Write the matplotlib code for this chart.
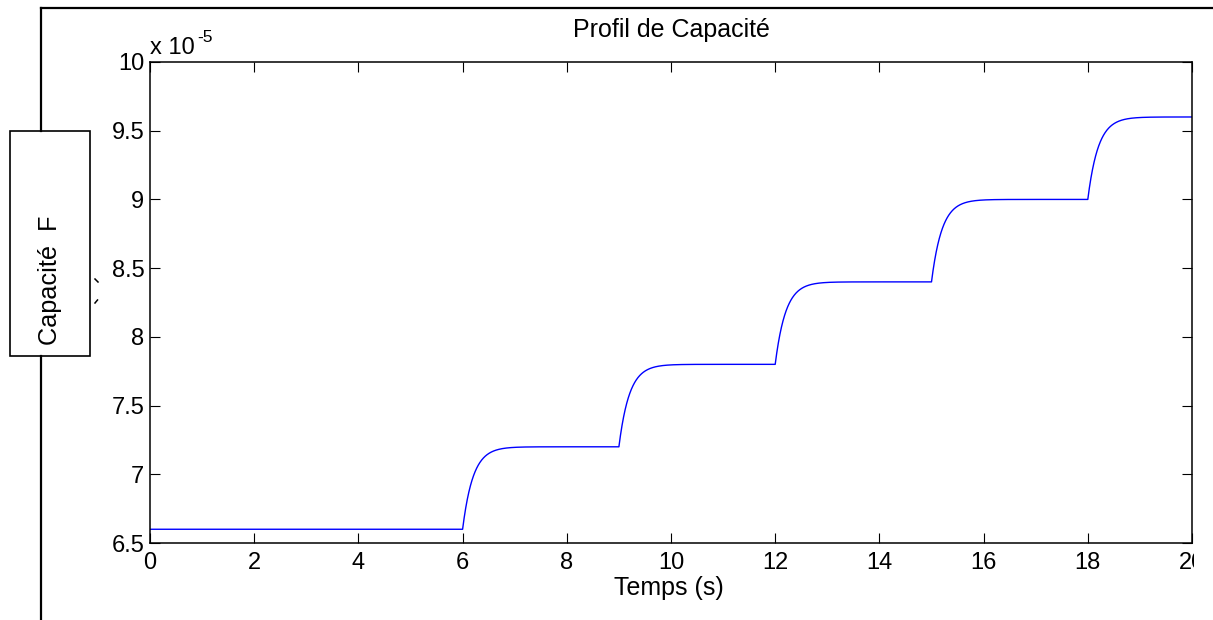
import matplotlib
matplotlib.use('Agg')
import matplotlib.pyplot as plt
import numpy as np
from matplotlib.lines import Line2D
from matplotlib.patches import Rectangle
from matplotlib.transforms import Bbox, TransformedBbox

plt.rcParams['font.family'] = ['Liberation Sans', 'DejaVu Sans']

# capacitance steps (F) and their switching times (s)
step_times = [6, 9, 12, 15, 18]
levels = [6.6e-5, 7.2e-5, 7.8e-5, 8.4e-5, 9.0e-5, 9.6e-5]
tau = 0.2  # first-order time constant of each transition (s)

x_ticks = [0, 2, 4, 6, 8, 10, 12, 14, 16, 18, 20]
y_ticks = [6.5, 7, 7.5, 8, 8.5, 9, 9.5, 10]
scale = 1e-5

t = np.linspace(0, 20, 4001)
c = np.full_like(t, levels[0])
for i, ts in enumerate(step_times):
    delta = levels[i + 1] - levels[i]
    on = t >= ts
    c[on] += delta * (1 - np.exp(-(t[on] - ts) / tau))

W, H = 1213, 620
fig = plt.figure(figsize=(W / 100, H / 100), dpi=100)
ax = fig.add_axes([150 / W, 1 - 543 / H, 1042 / W, 481 / H])

ax.plot(t, c / scale, color='#0000ff', lw=1.0)
ax.set_xlim(0, 20)
ax.set_ylim(6.5, 10)
ax.set_xticks(x_ticks)
ax.set_yticks(y_ticks)
ax.set_xticklabels(['%g' % v for v in x_ticks])
ax.set_yticklabels(['%g' % v for v in y_ticks])
ax.tick_params(direction='in', length=7, width=0.8, labelsize=17,
               top=True, right=True)
ax.tick_params(axis='x', pad=6.5)
ax.tick_params(axis='y', pad=4)
for sp in ax.spines.values():
    sp.set_linewidth(1.1)

# last x tick label is cut at the page edge
clip = TransformedBbox(Bbox([[0, 0], [1194 / W, 1]]), fig.transFigure)
lbl = ax.get_xticklabels()[-1]
lbl.set_clip_box(clip)
lbl.set_clip_on(True)

fig.text(150 / W, 1 - 54 / H, 'x 10', fontsize=17, ha='left', va='baseline')
fig.text(197 / W, 1 - 41.5 / H, '-5', fontsize=12.5, ha='left', va='baseline')

fig.text(671 / W, 1 - 37 / H, 'Profil de Capacité', fontsize=18,
         ha='center', va='baseline')
fig.text(669 / W, 1 - 595 / H, 'Temps (s)', fontsize=18,
         ha='center', va='baseline')

# surrounding frame and the boxed y label
def fig_line(xs, ys, lw=1.6):
    fig.add_artist(Line2D([x / W for x in xs], [1 - y / H for y in ys],
                          color='black', lw=lw, transform=fig.transFigure))

fig_line([41, W], [7.5, 7.5])
fig_line([41, 41], [7.5, 131])
fig_line([41, 41], [356, H])
fig.add_artist(Rectangle((10 / W, 1 - 356 / H), 80 / W, 225 / H,
                         fill=False, ec='black', lw=1.2,
                         transform=fig.transFigure))
fig.text(50 / W, 1 - 280 / H, 'Capacité  F', fontsize=18.2, rotation=90,
         ha='center', va='center')
fig_line([95, 98], [279, 282], lw=1.1)
fig_line([95, 97.5], [303, 300], lw=1.1)

fig.savefig('out.png', dpi=100)
